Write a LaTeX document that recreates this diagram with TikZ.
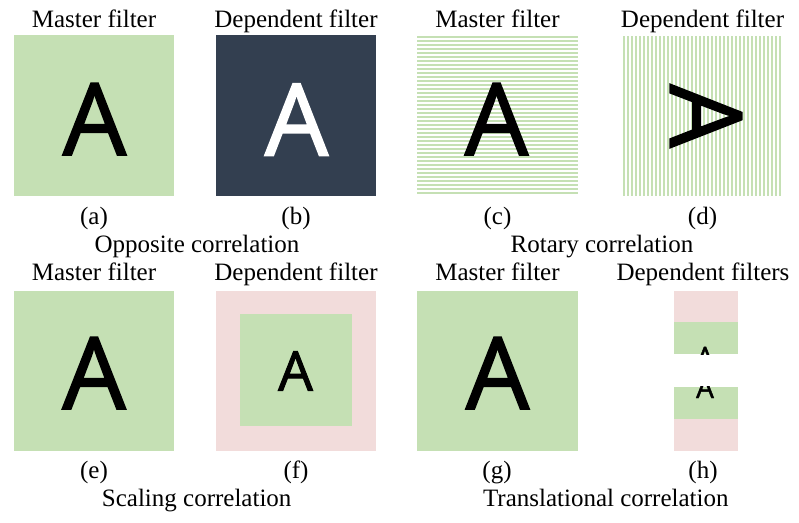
\documentclass[tikz,border=0pt]{standalone}
\usepackage{fontspec}
\setmainfont{Liberation Serif}
\newfontfamily\glyphfont[FakeBold=1.7]{Open Sans}
\definecolor{fgreen}{HTML}{C5E0B4}
\definecolor{fdark}{HTML}{333F50}
\definecolor{fpink}{HTML}{F2DCDB}
\begin{document}
\begin{tikzpicture}[x=1pt,y=-1pt,
  captext/.style={anchor=base, inner sep=0pt, font=\fontsize{25}{30}\selectfont},
  bigA/.style={anchor=base, inner sep=0pt, font=\glyphfont\fontsize{100}{120}\selectfont},
  midA/.style={anchor=base, inner sep=0pt, font=\glyphfont\fontsize{55}{66}\selectfont},
  smallA/.style={anchor=base, inner sep=0pt, font=\glyphfont\fontsize{28}{34}\selectfont},
  stripe/.style={draw=fgreen, line width=2pt}]
\useasboundingbox (0,0) rectangle (799,522);

% ---------- top row ----------
\fill[fgreen] (14,35) rectangle (174,196);
\node[bigA] (Aa) at (94.5,155) {A};

\fill[fdark] (216,35) rectangle (376,196);
\node[bigA, text=white] (Ab) at (296.5,155.5) {A};

\begin{scope}
  \clip (417,36) rectangle (578,196);
  \foreach \k in {0,...,39} \draw[stripe] (417,{37.3+4*\k}) -- (578,{37.3+4*\k});
\end{scope}
\node[bigA] (Ac) at (496.5,155) {A};

\begin{scope}
  \clip (623,36) rectangle (782,196);
  \foreach \k in {0,...,39} \draw[stripe] ({623.8+4*\k},36) -- ({623.8+4*\k},196);
\end{scope}
\node[bigA, anchor=center, rotate=-90] (Ad) at (706,116) {A};

\node[captext] (ta) at (94,27) {Master filter};
\node[captext] (tb) at (296,27) {Dependent filter};
\node[captext] (tc) at (497.5,27) {Master filter};
\node[captext] (td) at (702.5,27) {Dependent filter};
\node[captext] (la) at (94,224) {(a)};
\node[captext] (lb) at (296,224) {(b)};
\node[captext] (lc) at (497.5,224) {(c)};
\node[captext] (ld) at (702.5,224) {(d)};
\node[captext] (c1) at (197,252.7) {Opposite correlation};
\node[captext] (c2) at (602,252.7) {Rotary correlation};

% ---------- bottom row ----------
\fill[fgreen] (14,290.7) rectangle (174,451);
\node[bigA] (Ae) at (94,409) {A};

\fill[fpink] (216,290.7) rectangle (376,451);
\fill[fgreen] (240,314) rectangle (351.7,425.7);
\node[midA] (Af) at (295.5,390.7) {A};

\fill[fgreen] (417,290.7) rectangle (578,451);
\node[bigA] (Ag) at (497.5,409) {A};

\fill[fpink] (674,290.7) rectangle (737.7,321.7);
\fill[fgreen] (674,321.7) rectangle (737.7,354);
\begin{scope}
  \clip (674,290.7) rectangle (737.7,354);
  \node[smallA] (Ah1) at (705,367) {A};
\end{scope}
\fill[fgreen] (674,386.7) rectangle (737.7,419);
\fill[fpink] (674,419) rectangle (737.7,451);
\begin{scope}
  \clip (674,386.7) rectangle (737.7,451);
  \node[smallA] (Ah2) at (705,398) {A};
\end{scope}

\node[captext] (te) at (94,280.7) {Master filter};
\node[captext] (tf) at (296,280.7) {Dependent filter};
\node[captext] (tg) at (497.5,280.7) {Master filter};
\node[captext] (th) at (703,280.7) {Dependent filters};
\node[captext] (le) at (94,478) {(e)};
\node[captext] (lf) at (296,478) {(f)};
\node[captext] (lg) at (497,478) {(g)};
\node[captext] (lh) at (703,478) {(h)};
\node[captext] (c3) at (196.7,506.7) {Scaling correlation};
\node[captext] (c4) at (605.8,506.7) {Translational correlation};
\end{tikzpicture}
\end{document}
